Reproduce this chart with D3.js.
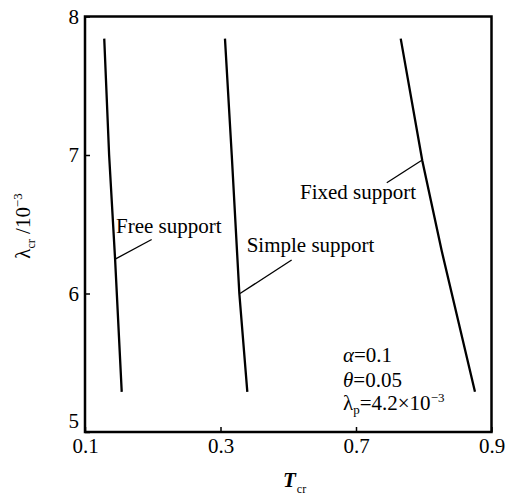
<!DOCTYPE html>
<html>
<head>
<meta charset="utf-8">
<script src="https://cdn.jsdelivr.net/npm/d3@7"></script>
<style>
  html, body { margin: 0; padding: 0; background: #fff; }
  svg { display: block; }
</style>
</head>
<body>
<svg id="chart" width="519" height="498"></svg>
<script>
// ---- data ----
const xTickLabels = ["0.1", "0.3", "0.7", "0.9"];   // evenly spaced tick labels
const yTicks = [5, 6, 7, 8];

// T_cr positions (in tick-interval units) and λ_cr (×10^-3)
const freeT = [0.142, 0.178, 0.222, 0.271];
const freeLambda = [7.84, 7.0, 6.25, 5.29];

const simpleT = [1.033, 1.083, 1.139, 1.198];
const simpleLambda = [7.84, 7.0, 6.0, 5.29];

const fixedT = [2.330, 2.489, 2.632, 2.878];
const fixedLambda = [7.84, 6.96, 6.31, 5.29];

const seriesNames = ["Free support", "Simple support", "Fixed support"];

// ---- layout ----
const svg = d3.select("#chart");
const margin = { left: 85, right: 27.5, top: 16.5, bottom: 66 };
const W = 519, H = 498;
const x = d3.scaleLinear().domain([0, xTickLabels.length - 1]).range([margin.left, W - margin.right]);
const y = d3.scaleLinear().domain([5, 8]).range([H - margin.bottom, margin.top]);

const fontSize = 21;

// axes
const xAxis = d3.axisBottom(x)
  .tickValues(d3.range(xTickLabels.length))
  .tickFormat(i => xTickLabels[i])
  .tickSizeInner(-5).tickSizeOuter(0).tickPadding(6);
const gx = svg.append("g").attr("transform", `translate(0,${y(5)})`).call(xAxis);
gx.select(".domain").remove();
gx.selectAll(".tick line").attr("stroke", "#000").attr("stroke-width", 1.5);
gx.selectAll(".tick text").attr("fill", "#000").style("font-size", fontSize + "px");

const yAxis = d3.axisLeft(y)
  .tickValues(yTicks)
  .tickFormat(d3.format("d"))
  .tickSizeInner(-5).tickSizeOuter(0).tickPadding(6);
const gy = svg.append("g").attr("transform", `translate(${x(0)},0)`).call(yAxis);
gy.select(".domain").remove();
gy.selectAll(".tick line").attr("stroke", "#000").attr("stroke-width", 1.5);
gy.selectAll(".tick text").attr("fill", "#000").style("font-size", fontSize + "px")
  .attr("dy", d => d === 5 ? "-0.2em" : "0.32em");

// frame
svg.append("rect")
  .attr("x", x(0)).attr("y", y(8))
  .attr("width", x(xTickLabels.length - 1) - x(0))
  .attr("height", y(5) - y(8))
  .attr("fill", "none").attr("stroke", "#000").attr("stroke-width", 2.5);

// series lines
const line = d3.line().x(d => x(d[0])).y(d => y(d[1]));
const series = [
  d3.zip(freeT, freeLambda),
  d3.zip(simpleT, simpleLambda),
  d3.zip(fixedT, fixedLambda)
];
svg.append("g").selectAll("path").data(series).join("path")
  .attr("d", line)
  .attr("fill", "none").attr("stroke", "#000").attr("stroke-width", 2.3);

// annotations: leader from point on curve to label, text anchored at start
const annotations = [
  { name: seriesNames[0], from: [0.226, 6.25], to: [0.492, 6.39], text: [0.229, 6.437] },
  { name: seriesNames[1], from: [1.144, 6.0], to: [1.525, 6.242], text: [1.193, 6.300] },
  { name: seriesNames[2], from: [2.489, 6.964], to: [2.227, 6.800], text: [1.587, 6.682] }
];
const ga = svg.append("g");
annotations.forEach(a => {
  ga.append("line")
    .attr("x1", x(a.from[0])).attr("y1", y(a.from[1]))
    .attr("x2", x(a.to[0])).attr("y2", y(a.to[1]))
    .attr("stroke", "#000").attr("stroke-width", 1.3);
  ga.append("text")
    .attr("x", x(a.text[0])).attr("y", y(a.text[1]))
    .style("font-size", fontSize + "px")
    .text(a.name);
});

// parameter block
const pg = svg.append("g");
const t1 = pg.append("text").attr("x", 343).attr("y", 362).style("font-size", fontSize + "px");
t1.append("tspan").style("font-style", "italic").text("α");
t1.append("tspan").text("=0.1");
const t2 = pg.append("text").attr("x", 343).attr("y", 387).style("font-size", fontSize + "px");
t2.append("tspan").style("font-style", "italic").text("θ");
t2.append("tspan").text("=0.05");
const t3 = pg.append("text").attr("x", 343).attr("y", 410).style("font-size", fontSize + "px");
t3.append("tspan").text("λ");
t3.append("tspan").attr("dy", 4).style("font-size", "13px").text("p");
t3.append("tspan").attr("dy", -4).text("=4.2×10");
t3.append("tspan").attr("dy", -8).style("font-size", "13px").text("−3");

// x title
const xt = svg.append("text").attr("x", 283).attr("y", 487).style("font-size", "21px");
xt.append("tspan").style("font-style", "italic").style("font-weight", "bold").text("T");
xt.append("tspan").attr("dy", 6).attr("dx", 1).style("font-size", "12px").text("cr");

// y title
const yt = svg.append("text")
  .attr("transform", "translate(30,226) rotate(-90)")
  .attr("text-anchor", "middle")
  .style("font-size", "21px");
yt.append("tspan").text("λ");
yt.append("tspan").attr("dy", 5).style("font-size", "12px").text("cr");
yt.append("tspan").attr("dy", -5).text(" /10");
yt.append("tspan").attr("dy", -8).style("font-size", "13px").text("−3");

// serif font on every text element
svg.selectAll("text").style("font-family", '"Liberation Serif"');
</script>
</body>
</html>
